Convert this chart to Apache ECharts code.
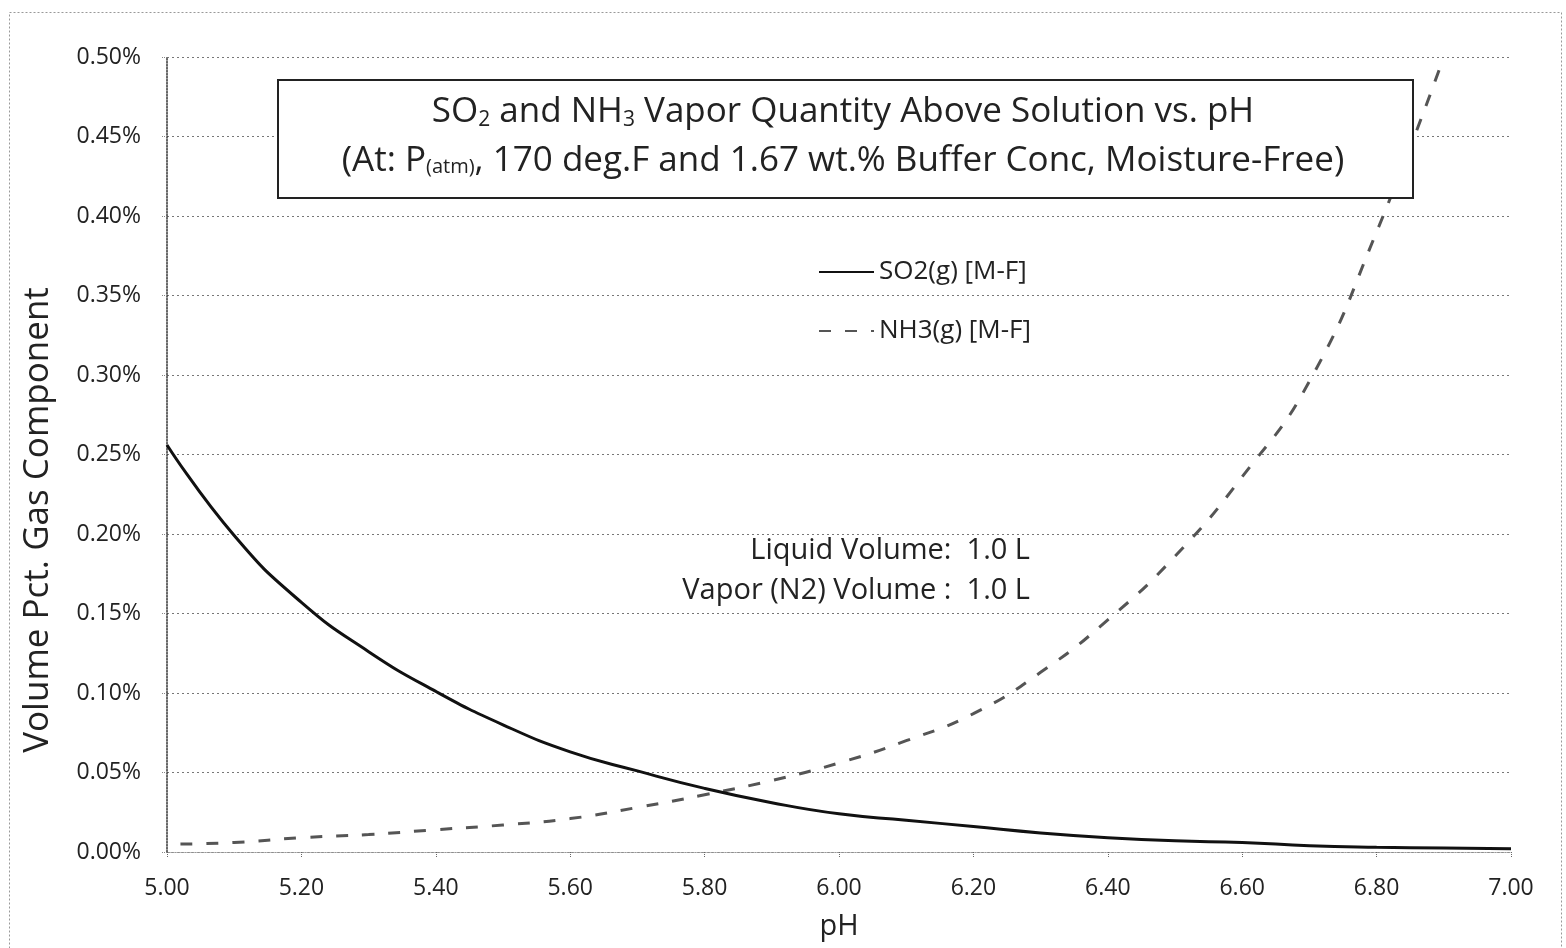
<!DOCTYPE html>
<html>
<head>
<meta charset="utf-8">
<script src="https://cdn.jsdelivr.net/npm/echarts@6/dist/echarts.min.js"></script>
<style>
  html, body { margin: 0; padding: 0; background: #fff; }
  #main { width: 1566px; height: 948px; }
</style>
</head>
<body>
<div id="main"></div>
<script>
// pH values, in steps of 0.1
var phSO2 = [5.0, 5.1, 5.2, 5.3, 5.4, 5.5, 5.6, 5.7, 5.8, 5.9, 6.0, 6.1, 6.2, 6.3, 6.4, 6.5, 6.6, 6.7, 6.8, 6.9, 7.0];
var so2Values = [0.256, 0.199, 0.157, 0.126, 0.101, 0.080, 0.063, 0.051, 0.040, 0.031, 0.024, 0.020, 0.016, 0.012, 0.009, 0.007, 0.006, 0.004, 0.003, 0.0025, 0.002];

var phNH3 = [5.02, 5.1, 5.2, 5.3, 5.4, 5.5, 5.6, 5.7, 5.8, 5.9, 6.0, 6.1, 6.2, 6.3, 6.4, 6.5, 6.6, 6.7, 6.8, 6.9];
var nh3Values = [0.005, 0.006, 0.009, 0.011, 0.014, 0.017, 0.021, 0.028, 0.036, 0.045, 0.056, 0.070, 0.087, 0.113, 0.146, 0.186, 0.236, 0.296, 0.39, 0.50];

var seriesNames = ['SO2(g) [M-F]', 'NH3(g) [M-F]'];
var noteLines = ['Liquid Volume:  1.0 L', 'Vapor (N2) Volume :  1.0 L'];

function pairs(xs, ys) {
  return xs.map(function (x, i) { return [x, ys[i]]; });
}

var FONT = 'Open Sans';
var myChart = echarts.init(document.getElementById('main'));

var option = {
  backgroundColor: '#fff',
  animation: false,
  textStyle: { fontFamily: FONT, color: '#222' },
  grid: { left: 167, right: 55, top: 57, bottom: 96 },
  legend: {
    orient: 'vertical',
    left: 818,
    top: 259,
    padding: 0,
    itemWidth: 55,
    itemHeight: 14,
    itemGap: 33,
    itemStyle: { opacity: 0 },
    textStyle: { fontSize: 26, color: '#222', fontFamily: FONT },
    data: seriesNames
  },
  xAxis: {
    type: 'value',
    min: 5,
    max: 7,
    interval: 0.2,
    name: 'pH',
    nameLocation: 'middle',
    nameGap: 60,
    nameTextStyle: { fontSize: 29, color: '#222' },
    axisLine: { onZero: false, lineStyle: { color: '#999', type: 'dotted', width: 1 } },
    axisTick: { show: true, length: 6, lineStyle: { color: '#666', type: 'dotted' } },
    axisLabel: { fontSize: 23, color: '#222', margin: 25, formatter: function (v) { return v.toFixed(2); } },
    splitLine: { show: false }
  },
  yAxis: {
    type: 'value',
    min: 0,
    max: 0.5,
    interval: 0.05,
    axisLine: { show: true, lineStyle: { color: '#333', type: 'dotted', width: 1.5 } },
    axisTick: { show: true, length: 5, lineStyle: { color: '#888', type: 'dotted' } },
    axisLabel: { fontSize: 23, color: '#222', margin: 26, formatter: function (v) { return v.toFixed(2) + '%'; } },
    splitLine: { show: true, lineStyle: { color: '#777', type: [2, 3], width: 1 } }
  },
  series: [
    {
      name: seriesNames[0],
      type: 'line',
      smooth: true,
      symbol: 'none',
      data: pairs(phSO2, so2Values),
      lineStyle: { color: '#111', width: 3 },
      itemStyle: { color: '#111' },
      z: 3
    },
    {
      name: seriesNames[1],
      type: 'line',
      smooth: true,
      symbol: 'none',
      data: pairs(phNH3, nh3Values),
      lineStyle: { color: '#555', width: 3, type: [12, 14] },
      itemStyle: { color: '#555' },
      z: 2
    }
  ],
  graphic: [
    {
      type: 'rect',
      left: 7, top: 10,
      shape: { width: 1552, height: 940 },
      style: { fill: 'none', stroke: '#999', lineWidth: 1, lineDash: [2, 2] },
      silent: true
    },
    {
      type: 'rect',
      left: 277, top: 79,
      shape: { width: 1135, height: 118 },
      style: { fill: '#fff', stroke: '#222', lineWidth: 2 },
      z: 10
    },
    {
      type: 'text',
      x: 843, y: 112,
      z: 11,
      style: {
        text: '{n|SO}{s|2}{n| and NH}{s|3}{n| Vapor Quantity Above Solution vs. pH}',
        align: 'center',
        verticalAlign: 'middle',
        rich: {
          n: { fontSize: 35, fontFamily: FONT, fill: '#222' },
          s: { fontSize: 21, fontFamily: FONT, fill: '#222', padding: [16, 0, 0, 0] }
        }
      }
    },
    {
      type: 'text',
      x: 843, y: 161,
      z: 11,
      style: {
        text: '{n|(At: P}{s|(atm)}{n|, 170 deg.F and 1.67 wt.% Buffer Conc, Moisture-Free)}',
        align: 'center',
        verticalAlign: 'middle',
        rich: {
          n: { fontSize: 35, fontFamily: FONT, fill: '#222' },
          s: { fontSize: 20, fontFamily: FONT, fill: '#222', padding: [12, 0, 0, 0] }
        }
      }
    },
    {
      type: 'text',
      x: 1030, y: 551,
      style: { text: noteLines[0], align: 'right', verticalAlign: 'middle', fontSize: 29, fontFamily: FONT, fill: '#222' }
    },
    {
      type: 'text',
      x: 1030, y: 591,
      style: { text: noteLines[1], align: 'right', verticalAlign: 'middle', fontSize: 29, fontFamily: FONT, fill: '#222' }
    },
    {
      type: 'text',
      x: 38, y: 520,
      rotation: Math.PI / 2,
      style: { text: 'Volume Pct. Gas Component', align: 'center', verticalAlign: 'middle', fontSize: 35, fontFamily: FONT, fill: '#222' }
    }
  ]
};

myChart.setOption(option);
</script>
</body>
</html>
